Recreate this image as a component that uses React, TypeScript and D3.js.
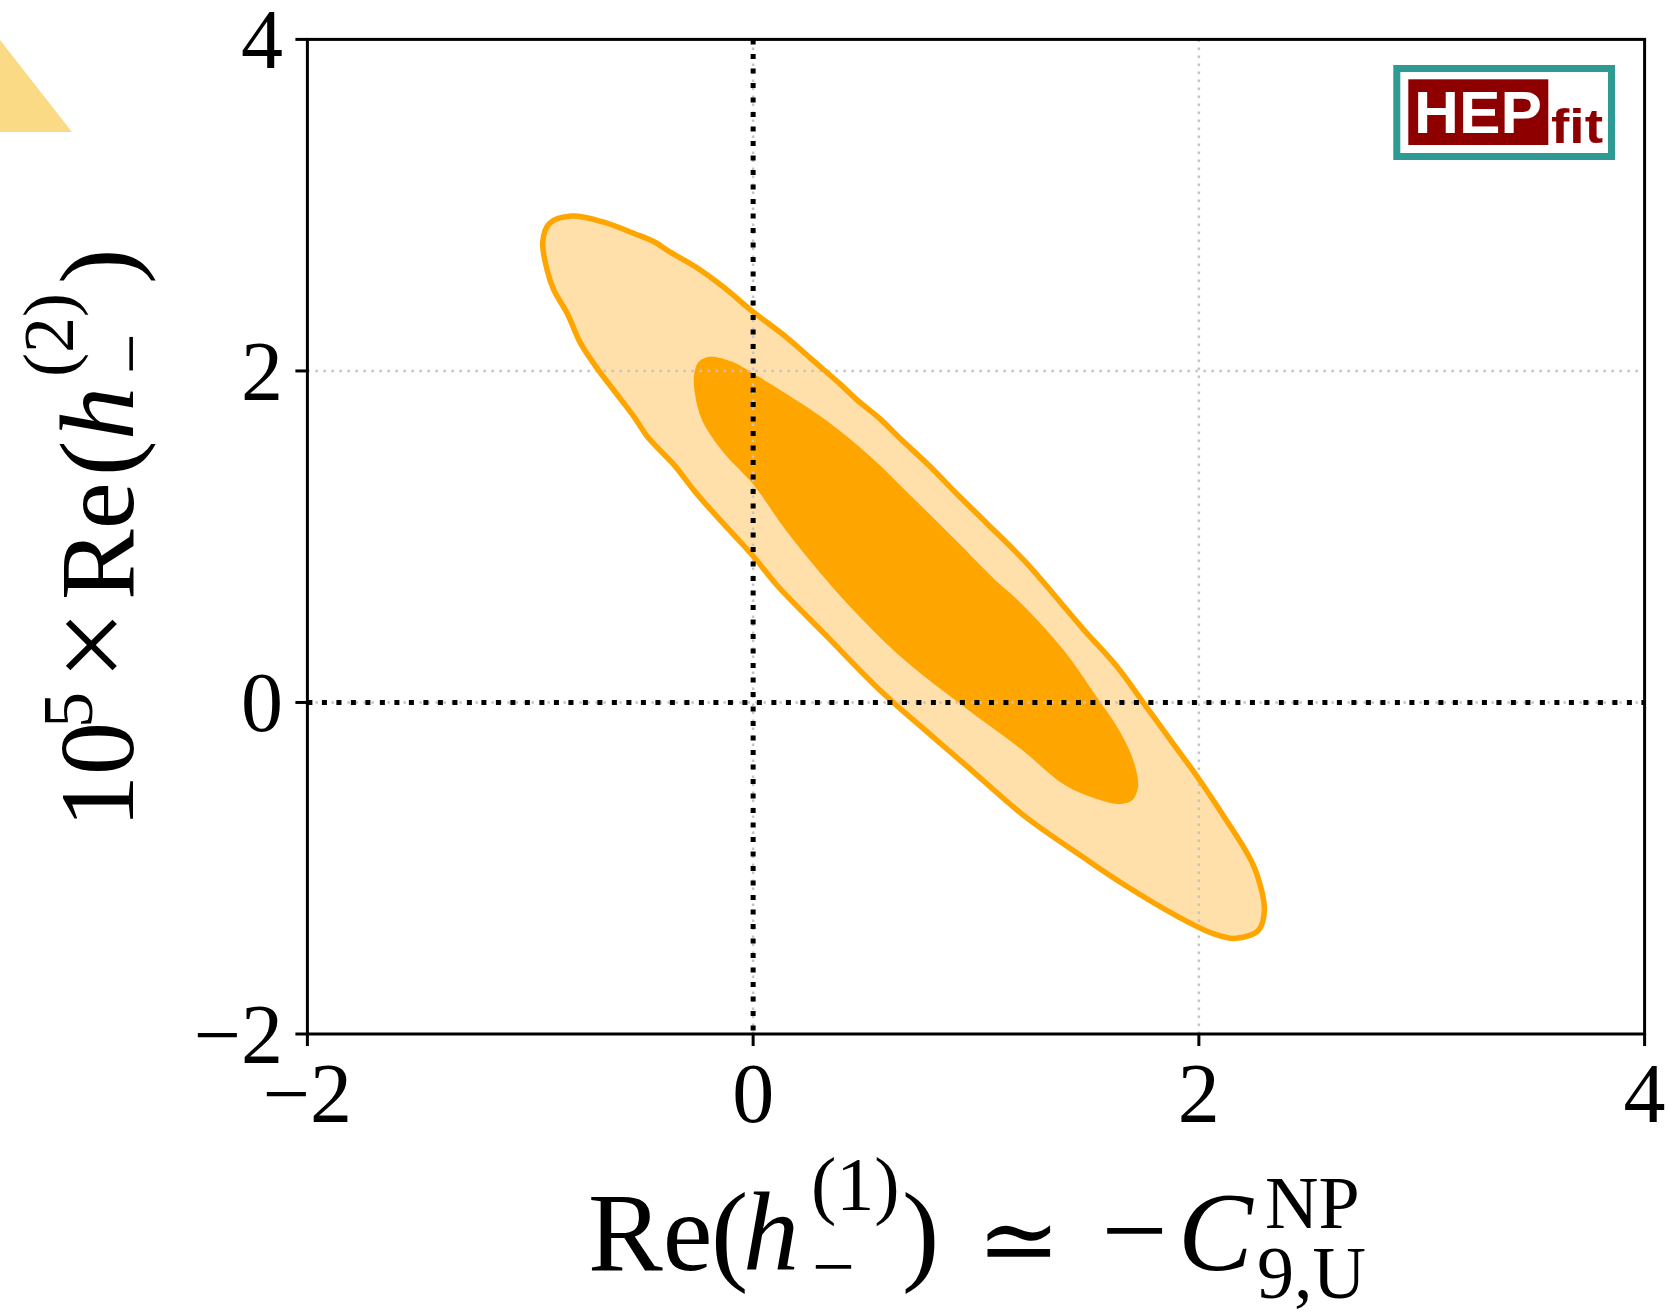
import React from 'react';
import * as d3 from 'd3';

// ---- data ----
const xDomain: [number, number] = [-2, 4];
const yDomain: [number, number] = [-2, 4];
const xTicks = [-2, 0, 2, 4];
const yTicks = [-2, 0, 2, 4];
const refLinesX = [0];
const refLinesY = [0];

// 95% region (outer, light) : [Re(h1), 1e5 Re(h2)]
const outerContour: [number, number][] = [
  [-0.944, 2.779], [-0.914, 2.89], [-0.814, 2.934], [-0.674, 2.899], [-0.534, 2.829],
  [-0.444, 2.779], [-0.374, 2.718], [-0.254, 2.624], [-0.134, 2.507], [0.0, 2.356],
  [0.147, 2.206], [0.267, 2.065], [0.387, 1.925], [0.467, 1.824], [0.567, 1.714],
  [0.667, 1.583], [0.787, 1.432], [0.927, 1.241], [1.049, 1.08], [1.221, 0.849],
  [1.478, 0.447], [1.633, 0.215], [1.753, -0.005], [1.873, -0.227], [1.993, -0.448],
  [2.113, -0.689], [2.217, -0.91], [2.259, -1.031], [2.294, -1.252], [2.268, -1.373],
  [2.165, -1.423], [2.062, -1.393], [1.908, -1.293], [1.667, -1.101], [1.478, -0.931],
  [1.221, -0.689], [0.964, -0.39], [0.8, -0.2], [0.58, 0.06], [0.33, 0.4],
  [0.105, 0.71], [0.003, 0.879], [-0.134, 1.08], [-0.254, 1.261], [-0.354, 1.432],
  [-0.474, 1.603], [-0.534, 1.723], [-0.614, 1.864], [-0.694, 2.005], [-0.774, 2.166],
  [-0.834, 2.347], [-0.894, 2.487], [-0.924, 2.608],
];

// 68% region (inner, dark)
const innerContour: [number, number][] = [
  [-0.264, 1.985], [-0.244, 2.055], [-0.194, 2.085], [-0.094, 2.055], [0.0, 1.985],
  [0.147, 1.864], [0.347, 1.683], [0.527, 1.482], [0.727, 1.221], [0.908, 0.98],
  [1.087, 0.738], [1.187, 0.618], [1.393, 0.316], [1.53, 0.055], [1.65, -0.186],
  [1.71, -0.367], [1.727, -0.508], [1.702, -0.589], [1.65, -0.613], [1.56, -0.59],
  [1.4, -0.5], [1.21, -0.29], [0.94, -0.02], [0.678, 0.257], [0.391, 0.643],
  [0.153, 1.028], [0.0, 1.317], [-0.134, 1.51], [-0.229, 1.703], [-0.262, 1.87],
];

const W = 1668;
const H = 1316;
const plot = { left: 307.4, right: 1644.6, top: 39.4, bottom: 1034 };

const SERIF = '"Liberation Serif", "DejaVu Serif", serif';
const SANS = '"Liberation Sans", Arial, sans-serif';

const fmt = (v: number) => (v < 0 ? `\u2212${-v}` : `${v}`);

export default function App() {
  const x = d3.scaleLinear().domain(xDomain).range([plot.left, plot.right]);
  const y = d3.scaleLinear().domain(yDomain).range([plot.bottom, plot.top]);
  const line = d3
    .line<[number, number]>()
    .x((d) => x(d[0]))
    .y((d) => y(d[1]))
    .curve(d3.curveCatmullRomClosed.alpha(0.5));

  const tickLen = 12;
  const orange = '#FFA500';
  const lightFill = '#FFE0AA';

  const yl = (u: number, v: number) => ({ x: u, y: v });

  return (
    <svg
      width={W}
      height={H}
      viewBox={`0 0 ${W} ${H}`}
      style={{ position: 'absolute', left: 0, top: 0, background: '#fff' }}
    >
      <rect x={0} y={0} width={W} height={H} fill="#fff" />
      {/* decorative triangle top-left */}
      <path d="M0,40 L72,132 L0,132 Z" fill="#FBDA85" />

      {/* contour fills */}
      <path d={line(outerContour) || ''} fill={lightFill} stroke="none" />
      <path d={line(innerContour) || ''} fill={orange} stroke="none" />

      {/* grid */}
      {xTicks.slice(1, -1).map((t) => (
        <line
          key={`gx${t}`}
          x1={x(t)}
          x2={x(t)}
          y1={plot.top}
          y2={plot.bottom}
          stroke="#c4c4c4"
          strokeWidth={2.5}
          strokeDasharray="2.5 5.5"
        />
      ))}
      {yTicks.slice(1, -1).map((t) => (
        <line
          key={`gy${t}`}
          x1={plot.left}
          x2={plot.right}
          y1={y(t)}
          y2={y(t)}
          stroke="#c4c4c4"
          strokeWidth={2.5}
          strokeDasharray="2.5 5.5"
        />
      ))}

      {/* contour outline */}
      <path d={line(outerContour) || ''} fill="none" stroke={orange} strokeWidth={5.5} strokeLinejoin="round" />

      {/* reference dotted lines */}
      {refLinesX.map((v) => (
        <line
          key={`rx${v}`}
          x1={x(v)}
          x2={x(v)}
          y1={plot.top}
          y2={plot.bottom}
          stroke="#000"
          strokeWidth={5}
          strokeDasharray="5 9.5"
        />
      ))}
      {refLinesY.map((v) => (
        <line
          key={`ry${v}`}
          x1={plot.left}
          x2={plot.right}
          y1={y(v)}
          y2={y(v)}
          stroke="#000"
          strokeWidth={5}
          strokeDasharray="5 9.5"
        />
      ))}

      {/* spines */}
      <rect
        x={plot.left}
        y={plot.top}
        width={plot.right - plot.left}
        height={plot.bottom - plot.top}
        fill="none"
        stroke="#000"
        strokeWidth={3}
      />

      {/* ticks */}
      {xTicks.map((t) => (
        <g key={`xt${t}`}>
          <line x1={x(t)} x2={x(t)} y1={plot.bottom} y2={plot.bottom + tickLen} stroke="#000" strokeWidth={3} />
          <text x={x(t)} y={1122} textAnchor="middle" fontFamily={SERIF} fontSize={84} fill="#000">
            {fmt(t)}
          </text>
        </g>
      ))}
      {yTicks.map((t) => (
        <g key={`yt${t}`}>
          <line x1={plot.left - tickLen} x2={plot.left} y1={y(t)} y2={y(t)} stroke="#000" strokeWidth={3} />
          <text x={283} y={y(t) + 29} textAnchor="end" fontFamily={SERIF} fontSize={84} fill="#000">
            {fmt(t)}
          </text>
        </g>
      ))}

      {/* x label: Re(h_-^(1)) ≃ -C^NP_9,U */}
      <g fontFamily={SERIF} fill="#000">
        <text x={588} y={1270} fontSize={112}>Re</text>
        <text x={711} y={1270} fontSize={112}>(</text>
        <text x={743} y={1270} fontSize={112} fontStyle="italic">h</text>
        <text x={811} y={1210} fontSize={76}>(1)</text>
        <text x={812} y={1292} fontSize={76}>{'\u2212'}</text>
        <text x={902} y={1270} fontSize={112}>)</text>
        <text x={1019} y={1274} fontSize={100} textAnchor="middle" fontFamily='"DejaVu Serif", serif'>{'\u2243'}</text>
        <text x={1134.5} y={1270} fontSize={118} textAnchor="middle">{'\u2212'}</text>
        <text x={1178} y={1270} fontSize={112} fontStyle="italic">C</text>
        <text x={1265} y={1228} fontSize={74}>NP</text>
        <text x={1257} y={1298} fontSize={74}>9,U</text>
      </g>

      {/* y label: 10^5 × Re(h_-^(2)) */}
      <g transform="translate(133,820) rotate(-90)" fontFamily={SERIF} fill="#000">
        <text {...yl(-8, 0)} fontSize={106}>10</text>
        <text {...yl(92, -41)} fontSize={72}>5</text>
        <text {...yl(175, 0)} fontSize={124} textAnchor="middle">{'\u00D7'}</text>
        <text {...yl(220, 0)} fontSize={106}>Re</text>
        <text {...yl(344, 0)} fontSize={106}>(</text>
        <text {...yl(380, 0)} fontSize={106} fontStyle="italic">h</text>
        <text {...yl(443, -60)} fontSize={72}>(2)</text>
        <text {...yl(446, 22)} fontSize={72}>{'\u2212'}</text>
        <text {...yl(536, 0)} fontSize={106}>)</text>
      </g>

      {/* HEPfit logo */}
      <g>
        <rect x={1396.8} y={68.5} width={214.7} height={88} fill="#fff" stroke="#2E9A94" strokeWidth={7} />
        <rect x={1408.3} y={79.3} width={140} height={65.7} fill="#8E0000" />
        <text
          x={1414}
          y={133}
          fontFamily={SANS}
          fontWeight="bold"
          fontSize={60}
          fill="#fff"
          textLength={128}
          lengthAdjust="spacingAndGlyphs"
        >
          HEP
        </text>
        <text
          x={1551}
          y={143}
          fontFamily={SANS}
          fontWeight="bold"
          fontSize={48}
          fill="#8E0000"
          textLength={52}
          lengthAdjust="spacingAndGlyphs"
        >
          fit
        </text>
      </g>
    </svg>
  );
}
